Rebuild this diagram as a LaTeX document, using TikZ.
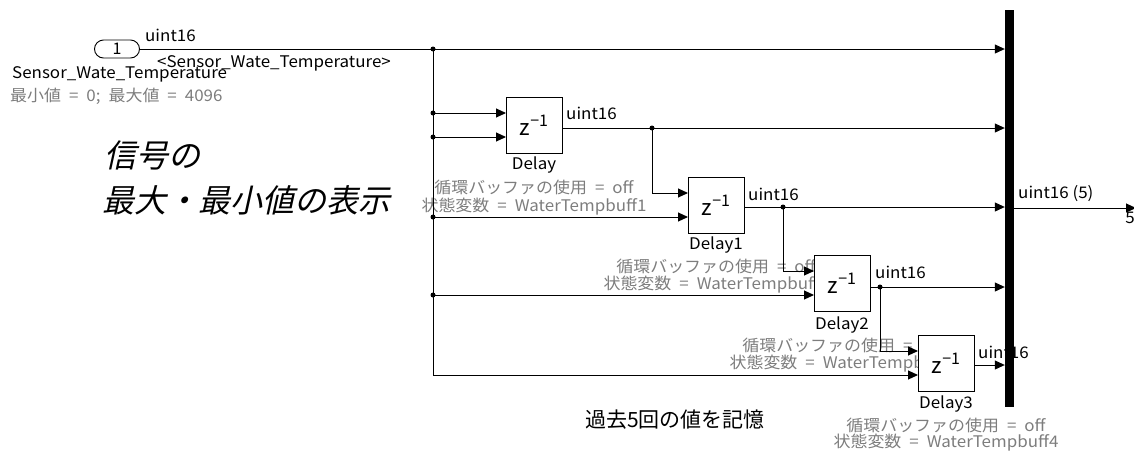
\documentclass[tikz,border=0pt]{standalone}
\usepackage{fontspec}
\setmainfont{Noto Sans CJK JP}
\newfontfamily\jpit[FakeSlant=0.22]{Noto Sans CJK JP}
\newfontfamily\wide[FakeStretch=1.06]{Noto Sans CJK JP}
\usetikzlibrary{shapes.misc,arrows.meta}
\definecolor{lab}{RGB}{125,125,125}
\newcommand{\gryfont}{\wide\fontsize{16}{16}\selectfont\spaceskip 0.5em\relax}
\newcommand{\lblfont}{\wide\fontsize{16}{16}\selectfont}
\begin{document}
\begin{tikzpicture}[x=1pt,y=-1pt,
  blk/.style={draw,fill=white,line width=0.9pt,minimum width=56pt,minimum height=56pt,inner sep=0pt,font=\fontsize{22}{22}\selectfont},
  sig/.style={line width=1pt},
  arr/.style={sig,-{Triangle[length=10pt,width=9pt]}},
  jdot/.style={circle,fill,inner sep=0pt,minimum size=5pt},
  lbl/.style={font=\lblfont,inner sep=0pt},
  gry/.style={font=\gryfont,text=lab,inner sep=0pt},
  big/.style={font=\jpit\fontsize{32}{32}\selectfont,inner sep=0pt,anchor=west},
]
\useasboundingbox (0,0) rectangle (1134,453);
\newcommand{\zm}{z\raisebox{0.42em}{\fontsize{16}{16}\selectfont −1}}
% parameter annotations (drawn first, blocks cover them)
\node[gry] (p0a) at (534,187) {循環バッファの使用 = off};
\node[gry] (p0b) at (534,207) {状態変数 = WaterTempbuff1};
\node[gry] (p1a) at (716,266) {循環バッファの使用 = off};
\node[gry] (p1b) at (716,285) {状態変数 = WaterTempbuff2};
\node[gry] (p2a) at (842,345) {循環バッファの使用 = off};
\node[gry] (p2b) at (842,364) {状態変数 = WaterTempbuff3};
\node[gry] (p3a) at (946,425) {循環バッファの使用 = off};
\node[gry] (p3b) at (946,443) {状態変数 = WaterTempbuff4};
\node[lbl,anchor=west] (u3) at (978,352) {uint16};
% blocks
\node[draw,rounded rectangle,minimum width=45pt,minimum height=18pt,inner sep=0pt,line width=0.9pt,font=\fontsize{16}{16}\selectfont] (in) at (117,49) {1};
\node[blk] (d0) at (534,125) {\zm};
\node[blk] (d1) at (716,205) {\zm};
\node[blk] (d2) at (842,283) {\zm};
\node[blk] (d3) at (946,363) {\zm};
\node[fill,minimum width=9pt,minimum height=397pt,inner sep=0pt] (bar) at (1009.5,208.5) {};
% coordinates
\coordinate (t0) at (433,49);
\coordinate (t1) at (433,113);
\coordinate (t2) at (433,137);
\coordinate (t3) at (433,217);
\coordinate (t4) at (433,295);
\coordinate (t5) at (433,375);
\coordinate (d0i1) at (506,113);
\coordinate (d0i2) at (506,137);
\coordinate (d0o) at (562,128);
\coordinate (d1i1) at (688,193);
\coordinate (d1i2) at (688,217);
\coordinate (d1o) at (744,207);
\coordinate (d2i1) at (814,271);
\coordinate (d2i2) at (814,295);
\coordinate (d2o) at (870,287);
\coordinate (d3i1) at (918,351);
\coordinate (d3i2) at (918,375);
\coordinate (d3o) at (974,365);
\coordinate (b0) at (652,128);
\coordinate (b1) at (783,207);
\coordinate (b2) at (880,287);
\coordinate (bo) at (1014,208);
\coordinate (oend) at (1136,208);
% connectors
\draw[arr] (in.east) -- (in.east -| bar.west);
\draw[sig] (t0) -- (t5);
\draw[arr] (t1) -- (d0i1);
\draw[arr] (t2) -- (d0i2);
\draw[arr] (t3) -- (d1i2);
\draw[arr] (t4) -- (d2i2);
\draw[arr] (t5) -- (d3i2);
\draw[arr] (d0o) -- (d0o -| bar.west);
\draw[arr] (b0) |- (d1i1);
\draw[arr] (d1o) -- (d1o -| bar.west);
\draw[arr] (b1) |- (d2i1);
\draw[arr] (d2o) -- (d2o -| bar.west);
\draw[arr] (b2) |- (d3i1);
\draw[arr] (d3o) -- (d3o -| bar.west);
\draw[arr] (bo) -- (oend);
\foreach \p in {t0,t1,t2,t3,t4,b0,b1,b2} \node[jdot] at (\p) {};
% labels
\node[lbl,anchor=west] (u) at (145,35) {uint16};
\node[lbl,anchor=west] (sn) at (157,63) {<Sensor\_Wate\_Temperature>};
\node[lbl,anchor=west] (sn2) at (12,74) {Sensor\_Wate\_Temperature};
\node[gry,anchor=west] (mm) at (10,96) {最小値 = 0; 最大値 = 4096};
\node[lbl,anchor=west] (u0) at (566,113) {uint16};
\node[lbl,anchor=west] (u1) at (748,194) {uint16};
\node[lbl,anchor=west] (u2) at (875,272) {uint16};
\node[lbl,anchor=west] (u5) at (1018,194) {uint16 (5)};
\node[lbl] (five) at (1130,218) {5};
\node[lbl] (n0) at (534,165) {Delay};
\node[lbl] (n1) at (716,245) {Delay1};
\node[lbl] (n2) at (842,325) {Delay2};
\node[lbl] (n3) at (946,404) {Delay3};
\node[big] (t1a) at (104,155) {信号の};
\node[big] (t1b) at (102,200) {最大・最小値の表示};
\node[font=\fontsize{21}{21}\selectfont,inner sep=0pt] (mem) at (675,420) {過去5回の値を記憶};
\end{tikzpicture}
\end{document}
